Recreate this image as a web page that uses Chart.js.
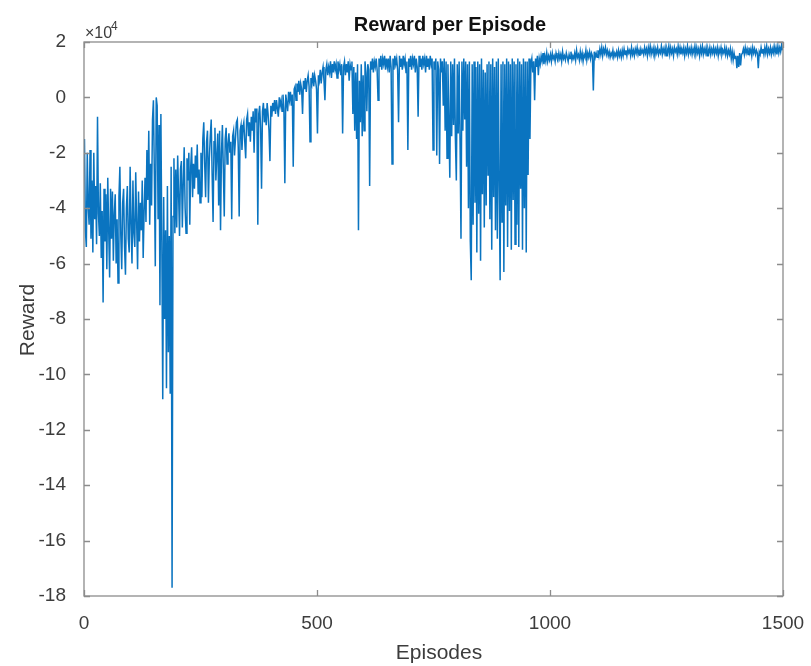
<!DOCTYPE html>
<html>
<head>
<meta charset="utf-8">
<title>Reward per Episode</title>
<script src="https://cdn.jsdelivr.net/npm/chart.js@4.4.1/dist/chart.umd.min.js"></script>
<style>
  html, body { margin: 0; padding: 0; background: #ffffff; }
  canvas { display: block; }
</style>
</head>
<body>
<canvas id="rewardChart" width="811" height="666"></canvas>
<script>
// Episode numbering of the logged rewards (one sample every 2 episodes)
const firstEpisode = 1;
const episodeStep = 2;

// Reward per logged episode, in units of 10^4
// Episodes 1-199: early exploration, including the collapse near episode 190
const rewardExplore = [
  -1.5, -4.8, -5.4, -2.0, -3.9, -4.6, -1.9, -5.1, -3.0, -5.6,
  -2.0, -4.4, -3.2, -5.3, -0.7, -4.2, -5.0, -3.1, -5.8, -4.1,
  -7.4, -3.3, -5.2, -3.5, -6.2,
  -2.9, -4.8, -6.5, -3.3, -5.1, -3.4, -5.9, -4.2, -3.5, -6.0,
  -4.4, -6.7, -3.6, -2.5, -5.0, -6.2, -3.8, -3.3, -5.4, -6.4,
  -4.0, -3.2, -5.1, -5.6, -2.5,
  -4.6, -6.0, -3.0, -4.9, -5.4, -2.7, -4.5, -6.2, -3.4, -5.2,
  -3.8, -4.8, -3.0, -5.8, -4.1, -2.9, -4.5, -1.9, -3.7, -1.2,
  -4.6, -2.4, -3.9, -0.8, -0.1,
  -2.8, -6.1, 0.0, -0.3, -4.4, -1.0, -7.5, -0.6, -5.2, -10.9,
  -3.6, -8.0, -4.8, -10.5, -3.2, -9.2, -5.0, -10.7, -2.5, -17.7,
  -4.3, -2.2, -4.9, -2.6, -4.7
];
// Episodes 201-499: steady recovery
const rewardRecover = [
  -2.1, -3.5, -5.0, -2.6, -2.3, -4.7, -3.1, -1.8, -4.0, -4.9,
  -2.2, -3.0, -2.0, -4.6, -2.5, -1.8, -3.6, -2.4, -3.3, -2.1,
  -2.9, -1.7, -3.5, -2.6, -3.8,
  -2.0, -3.6, -1.5, -0.9, -2.4, -3.6, -1.6, -1.2, -3.8, -2.2,
  -1.4, -0.8, -2.8, -4.5, -1.6, -1.1, -3.0, -2.1, -1.3, -3.9,
  -1.2, -4.8, -2.0, -1.0, -2.6,
  -4.3, -1.5, -1.1, -2.4, -1.7, -1.3, -2.0, -1.6, -4.4, -1.4,
  -1.2, -2.1, -1.5, -0.9, -0.8, -1.8, -4.3, -1.2, -1.0, -1.9,
  -1.1, -0.9, -1.6, -2.2, -0.8,
  -0.6, -1.4, -0.9, -1.6, -0.7, -1.2, -0.5, -2.0, -0.4, -0.9,
  -0.4, -4.6, -0.6, -0.3, -1.1, -3.3, -0.5, -0.2, -0.9, -0.4,
  -1.0, -0.2, -0.6, -1.2, -2.3,
  -0.3, -0.7, -0.2, -0.5, -0.1, -0.6, -0.1, -0.4, -0.7, 0.0,
  -0.3, -0.1, -0.5, 0.1, -0.4, -3.1, 0.1, -0.2, -0.5, 0.2,
  -0.1, 0.2, -0.3, 0.1, -2.5,
  0.3, 0.4, -0.1, 0.5, 0.2, 0.6, 0.1, 0.5, 0.3, -0.6,
  0.6, 0.3, 0.7, 0.2, 0.6, 0.8, 0.4, -1.6, 0.7, 0.5,
  0.9, 0.4, 0.8, 0.6, 0.3
];
// Episodes 501-799: plateau with isolated failures
const rewardPlateau = [
  -1.3, 0.8, 0.6, 1.0, 0.5, 0.9, 1.1, 0.6, -0.1, 1.0,
  1.2, 0.8, 1.1, 0.9, 1.3, 0.7, 1.2, 0.9, 1.3, 1.0,
  1.2, 0.7, 1.3, 1.0, 1.2,
  0.8, 1.2, -1.3, 1.1, 1.3, 0.8, 1.2, 0.9, 1.3, 0.6,
  1.2, 1.0, 1.3, -0.6, 1.1, -1.2, 0.9, -1.5, 1.2, -4.8,
  0.6, -0.9, 1.2, -1.4, 0.8,
  -1.2, 1.3, 0.9, -0.5, 1.2, 1.0, -3.2, 1.3, 1.0, 1.4,
  0.9, 1.3, 1.1, 1.4, 1.0, -0.1, 1.4, 1.1, 1.5, 1.0,
  1.4, 1.2, 1.5, 1.0, 1.4,
  1.1, 1.4, 0.9, 1.5, 1.1, -2.4, 1.4, 1.0, 1.5, 1.2,
  1.4, 1.0, -0.9, 1.5, 1.1, 1.4, 1.0, 1.5, 1.2, 1.4,
  0.9, 1.3, -1.9, 1.4, 1.1,
  1.5, 1.0, 1.4, 1.2, 1.5, 0.9, 1.4, 1.1, -0.7, 1.5,
  1.1, 1.4, 1.0, 1.5, 1.2, 1.4, 0.9, 1.5, 1.1, 1.4,
  1.0, 1.5, 1.2, 1.4, -1.9,
  1.3, 1.0, 1.4, -2.1, 1.3, 1.0, -2.4, 1.4, 0.9, 1.3,
  -0.3, 1.4, -1.2, 1.3, -2.2, 1.2, -0.8, -2.9, 1.3, -1.4,
  1.2, -1.0, 1.4, -1.5, -3.0
];
// Episodes 801-999: unstable phase
const rewardUnstable = [
  1.2, -1.3, 1.3, -1.6, -5.1, 1.3, -1.2, 1.4, -0.8, 1.3,
  -2.5, 1.2, -4.0, 1.3, -5.2, -6.6, 1.2, -4.6, 1.3, -3.8,
  1.1, -5.6, 1.3, -4.2, 1.2,
  -5.9, 1.4, -3.5, 1.0, -4.7, 0.9, -3.9, 1.2, -2.8, 1.3,
  -4.4, 1.2, -5.5, 1.4, -3.6, 1.1, -4.8, 1.3, -5.1, 1.4,
  -3.2, -6.6, 1.2, -4.5, 1.3,
  -6.3, 1.2, -3.9, 1.4, -5.4, 1.3, -4.1, 1.2, -5.5, 1.4,
  -3.7, 1.3, -5.3, 1.2, -4.6, 1.4, -5.4, 1.3, -3.3, 1.2,
  -5.5, 1.4, -4.0, 1.3, -5.6,
  1.3, -2.8, 1.4, -1.5, 1.2, 1.4, 0.9, 1.3, -0.1, 1.4,
  1.1, 1.5, 0.8, 1.4, 1.2, 1.5, 1.3, 1.6, 1.2, 1.5,
  1.3, 1.6, 1.3, 1.5, 1.35
];
// Episodes 1001-1499: converged
const rewardConverged = [
  1.55, 1.3, 1.6, 1.4, 1.5, 1.3, 1.6, 1.45, 1.35, 1.6,
  1.4, 1.55, 1.3, 1.65, 1.4, 1.5, 1.35, 1.6, 1.45, 1.3,
  1.55, 1.4, 1.65, 1.35, 1.5,
  1.4, 1.6, 1.35, 1.7, 1.45, 1.55, 1.35, 1.65, 1.4, 1.6,
  1.3, 1.55, 1.45, 1.7, 1.35, 1.6, 1.45, 1.65, 1.4, 1.6,
  1.5, 0.25, 1.65, 1.45, 1.6,
  1.45, 1.7, 1.5, 1.75, 1.55, 1.8, 1.5, 1.75, 1.6, 1.8,
  1.55, 1.7, 1.5, 1.65, 1.45, 1.6, 1.5, 1.7, 1.45, 1.6,
  1.5, 1.65, 1.45, 1.7, 1.5,
  1.65, 1.45, 1.7, 1.5, 1.75, 1.55, 1.7, 1.5, 1.75, 1.6,
  1.7, 1.5, 1.8, 1.55, 1.7, 1.5, 1.75, 1.6, 1.8, 1.55,
  1.7, 1.5, 1.75, 1.6, 1.7,
  1.55, 1.8, 1.6, 1.75, 1.5, 1.8, 1.6, 1.85, 1.55, 1.75,
  1.6, 1.8, 1.5, 1.75, 1.6, 1.8, 1.55, 1.7, 1.6, 1.85,
  1.55, 1.75, 1.6, 1.8, 1.5,
  1.75, 1.6, 1.85, 1.55, 1.8, 1.6, 1.75, 1.5, 1.8, 1.65,
  1.75, 1.55, 1.85, 1.6, 1.8, 1.55, 1.75, 1.6, 1.8, 1.5,
  1.75, 1.6, 1.85, 1.55, 1.75,
  1.6, 1.8, 1.55, 1.75, 1.6, 1.85, 1.55, 1.8, 1.6, 1.75,
  1.5, 1.8, 1.6, 1.85, 1.55, 1.75, 1.6, 1.8, 1.5, 1.75,
  1.6, 1.8, 1.55, 1.75, 1.6,
  1.8, 1.55, 1.75, 1.6, 1.8, 1.5, 1.75, 1.6, 1.8, 1.55,
  1.7, 1.6, 1.8, 1.55, 1.75, 1.5, 1.7, 1.55, 1.75, 1.4,
  1.65, 1.35, 1.6, 1.4, 1.5,
  1.05, 1.5, 1.1, 1.6, 1.15, 1.55, 1.6, 1.75, 1.55, 1.8,
  1.6, 1.75, 1.55, 1.8, 1.6, 1.75, 1.5, 1.8, 1.6, 1.75,
  1.55, 1.7, 1.6, 1.05, 1.65,
  1.55, 1.8, 1.6, 1.75, 1.55, 1.8, 1.6, 1.85, 1.55, 1.75,
  1.6, 1.8, 1.55, 1.75, 1.6, 1.85, 1.6, 1.8, 1.55, 1.85,
  1.6, 1.8, 1.65, 1.9, 1.7
];

// Axis ticks and text
const xTicks = [0, 500, 1000, 1500];
const yTicks = [-18, -16, -14, -12, -10, -8, -6, -4, -2, 0, 2];
const titleText = 'Reward per Episode';
const xLabel = 'Episodes';
const yLabel = 'Reward';
const exponentBase = '\u00d710';
const exponentPower = '4';

const reward = [].concat(rewardExplore, rewardRecover, rewardPlateau, rewardUnstable, rewardConverged);
const points = reward.map((v, i) => ({ x: firstEpisode + i * episodeStep, y: v }));

const FONT = '"Liberation Sans", Arial, Helvetica, sans-serif';
const AXIS_GRAY = '#8c8c8c';
const TEXT_GRAY = '#3c3c3c';

// Boxed axes with inward ticks on all four sides, plus titles
const framePlugin = {
  id: 'frame',
  afterDatasetsDraw(chart) {
    const { ctx, chartArea: a, scales } = chart;
    const xs = scales.x, ys = scales.y;
    ctx.save();
    ctx.strokeStyle = AXIS_GRAY;
    ctx.lineWidth = 1.3;
    ctx.strokeRect(a.left, a.top, a.right - a.left, a.bottom - a.top);
    const t = 6;
    ctx.beginPath();
    xTicks.forEach(v => {
      const px = Math.round(xs.getPixelForValue(v)) + 0.5;
      ctx.moveTo(px, a.bottom); ctx.lineTo(px, a.bottom - t);
      ctx.moveTo(px, a.top); ctx.lineTo(px, a.top + t);
    });
    yTicks.forEach(v => {
      const py = Math.round(ys.getPixelForValue(v)) + 0.5;
      ctx.moveTo(a.left, py); ctx.lineTo(a.left + t, py);
      ctx.moveTo(a.right, py); ctx.lineTo(a.right - t, py);
    });
    ctx.stroke();

    // title
    ctx.fillStyle = '#111111';
    ctx.font = 'bold 20px ' + FONT;
    ctx.textAlign = 'center';
    ctx.textBaseline = 'alphabetic';
    ctx.fillText(titleText, 450, 31);

    // axis labels
    ctx.fillStyle = TEXT_GRAY;
    ctx.font = '21px ' + FONT;
    ctx.fillText(xLabel, 439, 659);
    ctx.save();
    ctx.translate(34, 320);
    ctx.rotate(-Math.PI / 2);
    ctx.fillText(yLabel, 0, 0);
    ctx.restore();

    // exponent marker
    ctx.textAlign = 'left';
    ctx.font = '16px ' + FONT;
    ctx.fillText(exponentBase, 85, 38);
    ctx.font = '12px ' + FONT;
    ctx.fillText(exponentPower, 111, 30);
    ctx.restore();
  }
};

new Chart(document.getElementById('rewardChart'), {
  type: 'line',
  data: {
    datasets: [{
      data: points,
      borderColor: '#0a74c0',
      borderWidth: 1.5,
      pointRadius: 0,
      tension: 0,
      fill: false
    }]
  },
  options: {
    responsive: false,
    animation: false,
    devicePixelRatio: 1,
    layout: { padding: { top: 42, right: 28, bottom: 0, left: 0 } },
    plugins: { legend: { display: false }, tooltip: { enabled: false }, title: { display: false } },
    scales: {
      x: {
        type: 'linear',
        min: 0, max: 1500,
        grid: { display: false },
        border: { display: false },
        afterFit(scale) { scale.height = 70; scale.paddingLeft = 0; scale.paddingRight = 0; },
        afterBuildTicks(scale) { scale.ticks = xTicks.map(v => ({ value: v })); },
        ticks: {
          color: TEXT_GRAY, font: { family: FONT, size: 19 }, padding: 8, maxRotation: 0,
          callback: v => String(v)
        }
      },
      y: {
        type: 'linear',
        min: -18, max: 2,
        grid: { display: false },
        border: { display: false },
        afterFit(scale) { scale.width = 84; scale.paddingTop = 0; scale.paddingBottom = 0; },
        afterBuildTicks(scale) { scale.ticks = yTicks.map(v => ({ value: v })); },
        ticks: { color: TEXT_GRAY, font: { family: FONT, size: 19 }, padding: 10, callback: v => String(v) }
      }
    }
  },
  plugins: [framePlugin]
});
</script>
</body>
</html>
